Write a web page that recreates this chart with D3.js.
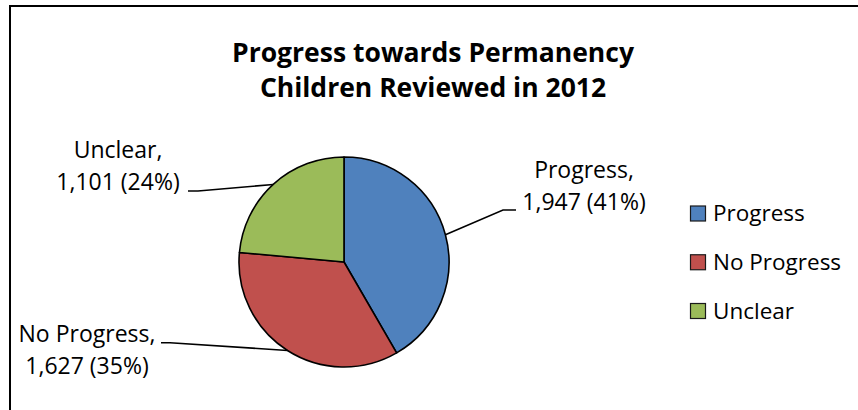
<!DOCTYPE html>
<html>
<head>
<meta charset="utf-8">
<script src="https://cdn.jsdelivr.net/npm/d3@7/dist/d3.min.js"></script>
<style>
  html, body { margin: 0; padding: 0; background: #fff; }
  svg { display: block; }
  text { font-family: "Open Sans", "Noto Sans", sans-serif; fill: #000; }
</style>
</head>
<body>
<svg id="chart" width="858" height="410"></svg>
<script>
// Review outcomes for children reviewed in 2012
const categories = ["Progress", "No Progress", "Unclear"];
const counts = [1947, 1627, 1101];
const percentLabels = ["41%", "35%", "24%"];
const colors = ["#4F81BD", "#C0504D", "#9BBB59"];
const titleLines = ["Progress towards Permanency", "Children Reviewed in 2012"];

const svg = d3.select("#chart");
const W = 858, H = 410;

// chart area frame (open at right/bottom edges of the canvas)
svg.append("rect")
  .attr("x", 10).attr("y", 6)
  .attr("width", W + 10).attr("height", H + 10)
  .attr("fill", "#fff")
  .attr("stroke", "#000").attr("stroke-width", 2);

// title
const title = svg.append("text")
  .attr("text-anchor", "middle")
  .style("font-weight", "700")
  .style("font-size", "26.5px");
titleLines.forEach((t, i) => {
  title.append("tspan").attr("x", 433).attr("y", 62 + i * 34.5).text(t);
});

// pie
const cx = 344, cy = 262, r = 105;
const data = categories.map((c, i) => ({ name: c, value: counts[i], pct: percentLabels[i], color: colors[i] }));
const pie = d3.pie().value(d => d.value).sort(null);
const arcs = pie(data);
const arc = d3.arc().innerRadius(0).outerRadius(r);
const edge = d3.arc().innerRadius(r).outerRadius(r);

const g = svg.append("g").attr("transform", `translate(${cx},${cy})`);
g.selectAll("path.slice")
  .data(arcs)
  .join("path")
  .attr("class", "slice")
  .attr("d", arc)
  .attr("fill", d => d.data.color)
  .attr("stroke", "#000")
  .attr("stroke-width", 1.6)
  .attr("stroke-linejoin", "round");

// data labels with leader lines
const labelLayout = {
  "Progress":    { x: 584, y: 178, elbow: [503, 210], end: [516, 210] },
  "No Progress": { x: 87,  y: 342, elbow: [170, 342.7], end: [161, 342.7] },
  "Unclear":     { x: 118, y: 158, elbow: [198, 191], end: [188, 191] }
};
const fmt = d3.format(",");

arcs.forEach(a => {
  const L = labelLayout[a.data.name];
  const p = edge.centroid(a);
  const start = [cx + p[0], cy + p[1]];
  svg.append("path")
    .attr("d", d3.line()([start, L.elbow, L.end]))
    .attr("fill", "none")
    .attr("stroke", "#000")
    .attr("stroke-width", 1.6);
  const t = svg.append("text")
    .attr("text-anchor", "middle")
    .style("font-size", "23px");
  t.append("tspan").attr("x", L.x).attr("y", L.y).text(a.data.name + ",");
  t.append("tspan").attr("x", L.x).attr("y", L.y + 31.5)
    .text(`${fmt(a.data.value)} (${a.data.pct})`);
});

// legend
const legend = svg.append("g");
const legY = d3.scalePoint().domain(categories).range([213.5, 311]);
categories.forEach((c, i) => {
  const y = legY(c);
  legend.append("rect")
    .attr("x", 690.5).attr("y", y - 7.5)
    .attr("width", 15).attr("height", 15)
    .attr("fill", colors[i])
    .attr("stroke", "#1a1a1a").attr("stroke-width", 1.2);
  legend.append("text")
    .attr("x", 713).attr("y", y + 7.8)
    .style("font-size", "22.5px")
    .text(c);
});
</script>
</body>
</html>
